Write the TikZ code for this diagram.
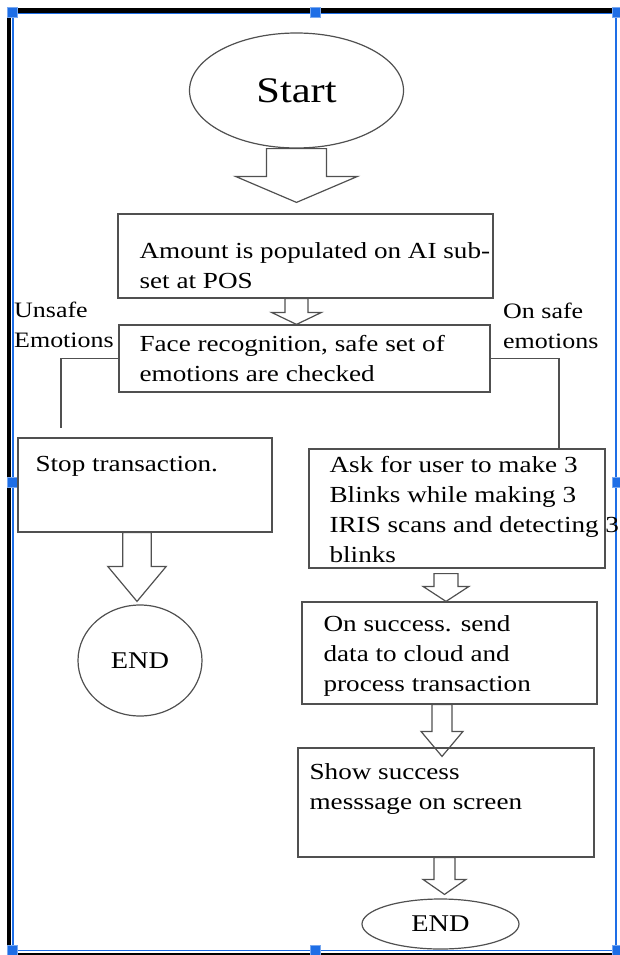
\documentclass[tikz,border=0pt]{standalone}
\usepackage{fontspec}
\setmainfont{Liberation Serif}[FakeStretch=1.18]
\usetikzlibrary{shapes.geometric,calc}

\definecolor{selblue}{RGB}{30,110,230}
\definecolor{edge}{RGB}{80,80,80}

\tikzset{
box/.style={draw=edge,line width=1.2pt,inner sep=0pt},
oval/.style={draw=edge,line width=1.2pt,ellipse,inner sep=0pt},
txt/.style={align=left,inner sep=0pt,anchor=base west,font=\fontsize{23}{30}\selectfont},
lbl/.style={txt,font=\fontsize{22}{30}\selectfont},
link/.style={draw=edge,line width=1.2pt},
fat/.style={draw=edge,line width=1.2pt,line join=miter},
handle/.style={fill=selblue,draw=selblue!60!white,minimum size=10pt,inner sep=0pt}}

% hollow block arrow: top point, bottom anchor, half shaft, half head, head length
\newcommand\fatarrow[5]{%
  \draw[fat] let \p1=(#1), \p2=(#2) in
    (\x1-#3pt,\y1) -- (\x1-#3pt,\y2+#5pt) -- (\x1-#4pt,\y2+#5pt) -- (\x1,\y2)
    -- (\x1+#4pt,\y2+#5pt) -- (\x1+#3pt,\y2+#5pt) -- (\x1+#3pt,\y1) -- cycle;}

\begin{document}
\begin{tikzpicture}[x=1pt,y=-1pt]
  \useasboundingbox (0,0) rectangle (620,955);
  % frame
  \draw[selblue,line width=1.5pt] (13,13) rectangle (616,950.5);
  \draw[line width=4.5pt] (9,960) -- (9,10.5) -- (630,10.5);
  \draw[line width=3pt] (9,954) -- (630,954);
  \foreach \x/\y [count=\i] in {12/12,315/12,617/12,12/482,617/482,12/950,315/950,617/950}
    \node[handle] (h\i) at (\x,\y) {};

  \node[oval,minimum width=214pt,minimum height=115pt,font=\fontsize{36}{40}\selectfont] (start) at (296.5,90.5) {Start};

  % text is placed by the baseline of its last line
  \node[box,minimum width=375pt,minimum height=84pt] (amount) at (305.5,256) {};
  \node[txt] (amounttxt) at ([shift={(22,75)}]amount.north west) {Amount is populated on AI sub-\\set at POS};

  \node[box,minimum width=371pt,minimum height=67pt] (face) at (304.5,358.5) {};
  \node[txt] (facetxt) at ([shift={(21,57)}]face.north west) {Face recognition, safe set of\\emotions are checked};

  \node[lbl] (unsafe) at (14,347) {Unsafe\\Emotions};
  \node[lbl] (safe) at (503,348) {On safe\\emotions};

  % unsafe branch
  \node[box,minimum width=254pt,minimum height=94pt] (stop) at (145,485) {};
  \node[txt] (stoptxt) at ([shift={(18,34)}]stop.north west) {Stop transaction.};
  \node[oval,minimum width=124pt,minimum height=111pt,font=\fontsize{24}{28}\selectfont] (endl) at (140,660.5) {END};

  % safe branch
  \node[box,minimum width=296pt,minimum height=119pt] (ask) at (457,508.5) {};
  \node[txt] (asktxt) at ([shift={(21,114)}]ask.north west) {Ask for user to make 3\\Blinks while making 3\\IRIS scans and detecting 3\\blinks};
  \node[box,minimum width=295pt,minimum height=102pt] (send) at (449.5,653) {};
  \node[txt] (sendtxt) at ([shift={(22,90)}]send.north west) {On success. send\\data to cloud and\\process transaction};
  \node[box,minimum width=296pt,minimum height=109pt] (show) at (446,802.5) {};
  \node[txt] (showtxt) at ([shift={(12,62)}]show.north west) {Show success\\messsage on screen};
  \node[oval,minimum width=157pt,minimum height=50pt,font=\fontsize{24}{28}\selectfont] (endr) at (440.5,924) {END};

  \draw[link,shorten >=9pt] (face.west) -| ([xshift=-84pt]stop.north);
  \draw[link] (face.east) -| ([xshift=102pt]ask.north);

  \fatarrow{start.south}{[yshift=11pt]amount.north}{30}{61}{26}
  \fatarrow{amount.south -| start.south}{face.north}{11.5}{25}{12}
  \fatarrow{[xshift=-8pt]stop.south}{[yshift=3pt]endl.north}{14.25}{29.25}{35}
  \fatarrow{[xshift=-11pt,yshift=-5pt]ask.south}{send.north}{12}{23}{15}
  \fatarrow{[xshift=-7.5pt]send.south}{[yshift=-9pt]show.north}{10}{21}{25}
  \fatarrow{[xshift=-1.5pt]show.south}{[yshift=4pt]endr.north}{10.5}{21.5}{15}
\end{tikzpicture}
\end{document}
